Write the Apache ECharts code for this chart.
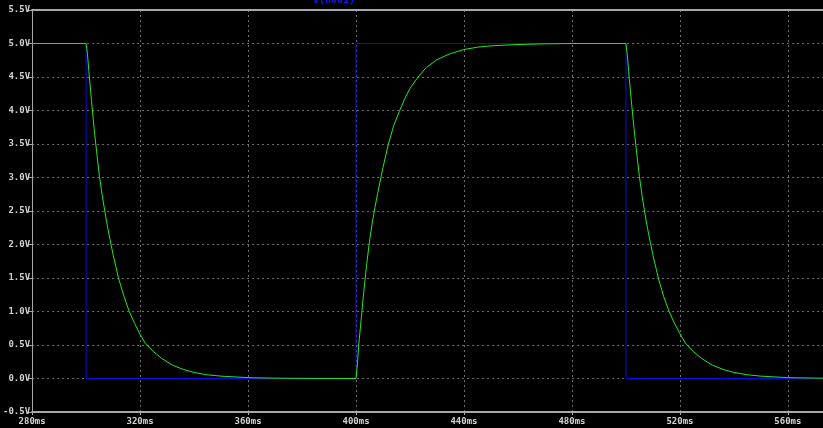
<!DOCTYPE html>
<html>
<head>
<meta charset="utf-8">
<script src="https://cdn.jsdelivr.net/npm/echarts@6/dist/echarts.min.js"></script>
<style>
html,body{margin:0;padding:0;background:#000;}
#c{width:823px;height:428px;}
</style>
</head>
<body>
<div id="c"></div>
<script>
// Tick settings
const xMin = 280, xMax = 573, xStep = 40;
const yMin = -0.5, yMax = 5.5, yStep = 0.5;

// Blue trace: square input V(n001)
const blueTime  = [280, 300, 300, 400, 400, 500, 500, 573];
const blueVolts = [5.0, 5.0, 0.0, 0.0, 5.0, 5.0, 0.0, 0.0];

// Green trace: RC output
const greenTime = [
  280, 300, 300.5, 301, 302, 303, 304, 305, 306, 307, 308, 310, 312, 314, 316, 318, 320, 322, 325, 328, 332, 336, 340, 345, 350, 360, 370, 380, 400,
  400.5, 401, 402, 403, 404, 405, 406, 407, 408, 410, 412, 414, 416, 418, 420, 423, 426, 430, 435, 440, 445, 450, 460, 470, 480, 500,
  500.5, 501, 502, 503, 504, 505, 506, 507, 508, 510, 512, 514, 516, 518, 520, 522, 525, 528, 532, 536, 540, 545, 550, 560, 573
];
const greenVolts = [
  5.0, 5.0, 4.85, 4.6, 4.15, 3.72, 3.35, 3.0, 2.73, 2.48, 2.25, 1.85, 1.5, 1.23, 1.0, 0.82, 0.66, 0.52, 0.40, 0.30, 0.20, 0.135, 0.09, 0.055, 0.035, 0.013, 0.005, 0.002, 0.0,
  0.2, 0.5, 0.92, 1.35, 1.72, 2.05, 2.32, 2.55, 2.76, 3.15, 3.5, 3.78, 3.98, 4.17, 4.33, 4.5, 4.64, 4.76, 4.85, 4.91, 4.945, 4.965, 4.985, 4.995, 5.0, 5.0,
  4.83, 4.58, 4.14, 3.73, 3.36, 3.01, 2.72, 2.47, 2.24, 1.84, 1.5, 1.22, 1.0, 0.82, 0.67, 0.53, 0.40, 0.30, 0.20, 0.135, 0.09, 0.056, 0.035, 0.013, 0.004
];

const traceTitle = 'V(n001)';

const zip = (a, b) => a.map((v, i) => [v, b[i]]);
const axisCol = '#a8a8a8';
const gridCol = '#6e6e6e';
const labelFont = {color: '#d2d2d2', fontFamily: 'DejaVu Sans Mono', fontSize: 9, fontWeight: 'bold'};

const chart = echarts.init(document.getElementById('c'), null, {renderer: 'canvas'});
chart.setOption({
  backgroundColor: '#000',
  animation: false,
  grid: {left: 32, right: 0, top: 10, bottom: 16, containLabel: false},
  graphic: [{
    type: 'text', left: 313, top: -5, z: 100,
    style: {text: traceTitle, fill: '#1414ff', fontFamily: 'DejaVu Sans Mono', fontSize: 10, fontWeight: 'bold'}
  }],
  xAxis: [{
    type: 'value', min: xMin, max: xMax, interval: xStep,
    axisLine: {show: true, onZero: false, lineStyle: {color: axisCol, width: 2}},
    axisTick: {show: true, length: 3, lineStyle: {color: axisCol}},
    axisLabel: Object.assign({margin: 5, showMaxLabel: false, formatter: v => v + 'ms'}, labelFont),
    splitLine: {show: true, lineStyle: {color: gridCol, type: [2, 3], width: 1}}
  }, {
    type: 'value', position: 'top', min: xMin, max: xMax,
    axisLine: {show: true, onZero: false, lineStyle: {color: axisCol, width: 2}},
    axisTick: {show: false}, axisLabel: {show: false}, splitLine: {show: false}
  }],
  yAxis: {
    type: 'value', min: yMin, max: yMax, interval: yStep,
    axisLine: {show: true, onZero: false, lineStyle: {color: axisCol, width: 1}},
    axisTick: {show: true, length: 4, lineStyle: {color: axisCol}},
    axisLabel: Object.assign({margin: 2, formatter: v => v.toFixed(1) + 'V'}, labelFont),
    splitLine: {show: true, lineStyle: {color: gridCol, type: [2, 3], width: 1}}
  },
  series: [{
    type: 'line', name: 'input', data: zip(blueTime, blueVolts), showSymbol: false, symbol: 'none',
    lineStyle: {color: '#0a0ae6', width: 1}, z: 3
  }, {
    type: 'line', name: traceTitle, data: zip(greenTime, greenVolts), showSymbol: false, symbol: 'none',
    smooth: false, lineStyle: {color: '#22e622', width: 1}, z: 4
  }]
});
</script>
</body>
</html>
